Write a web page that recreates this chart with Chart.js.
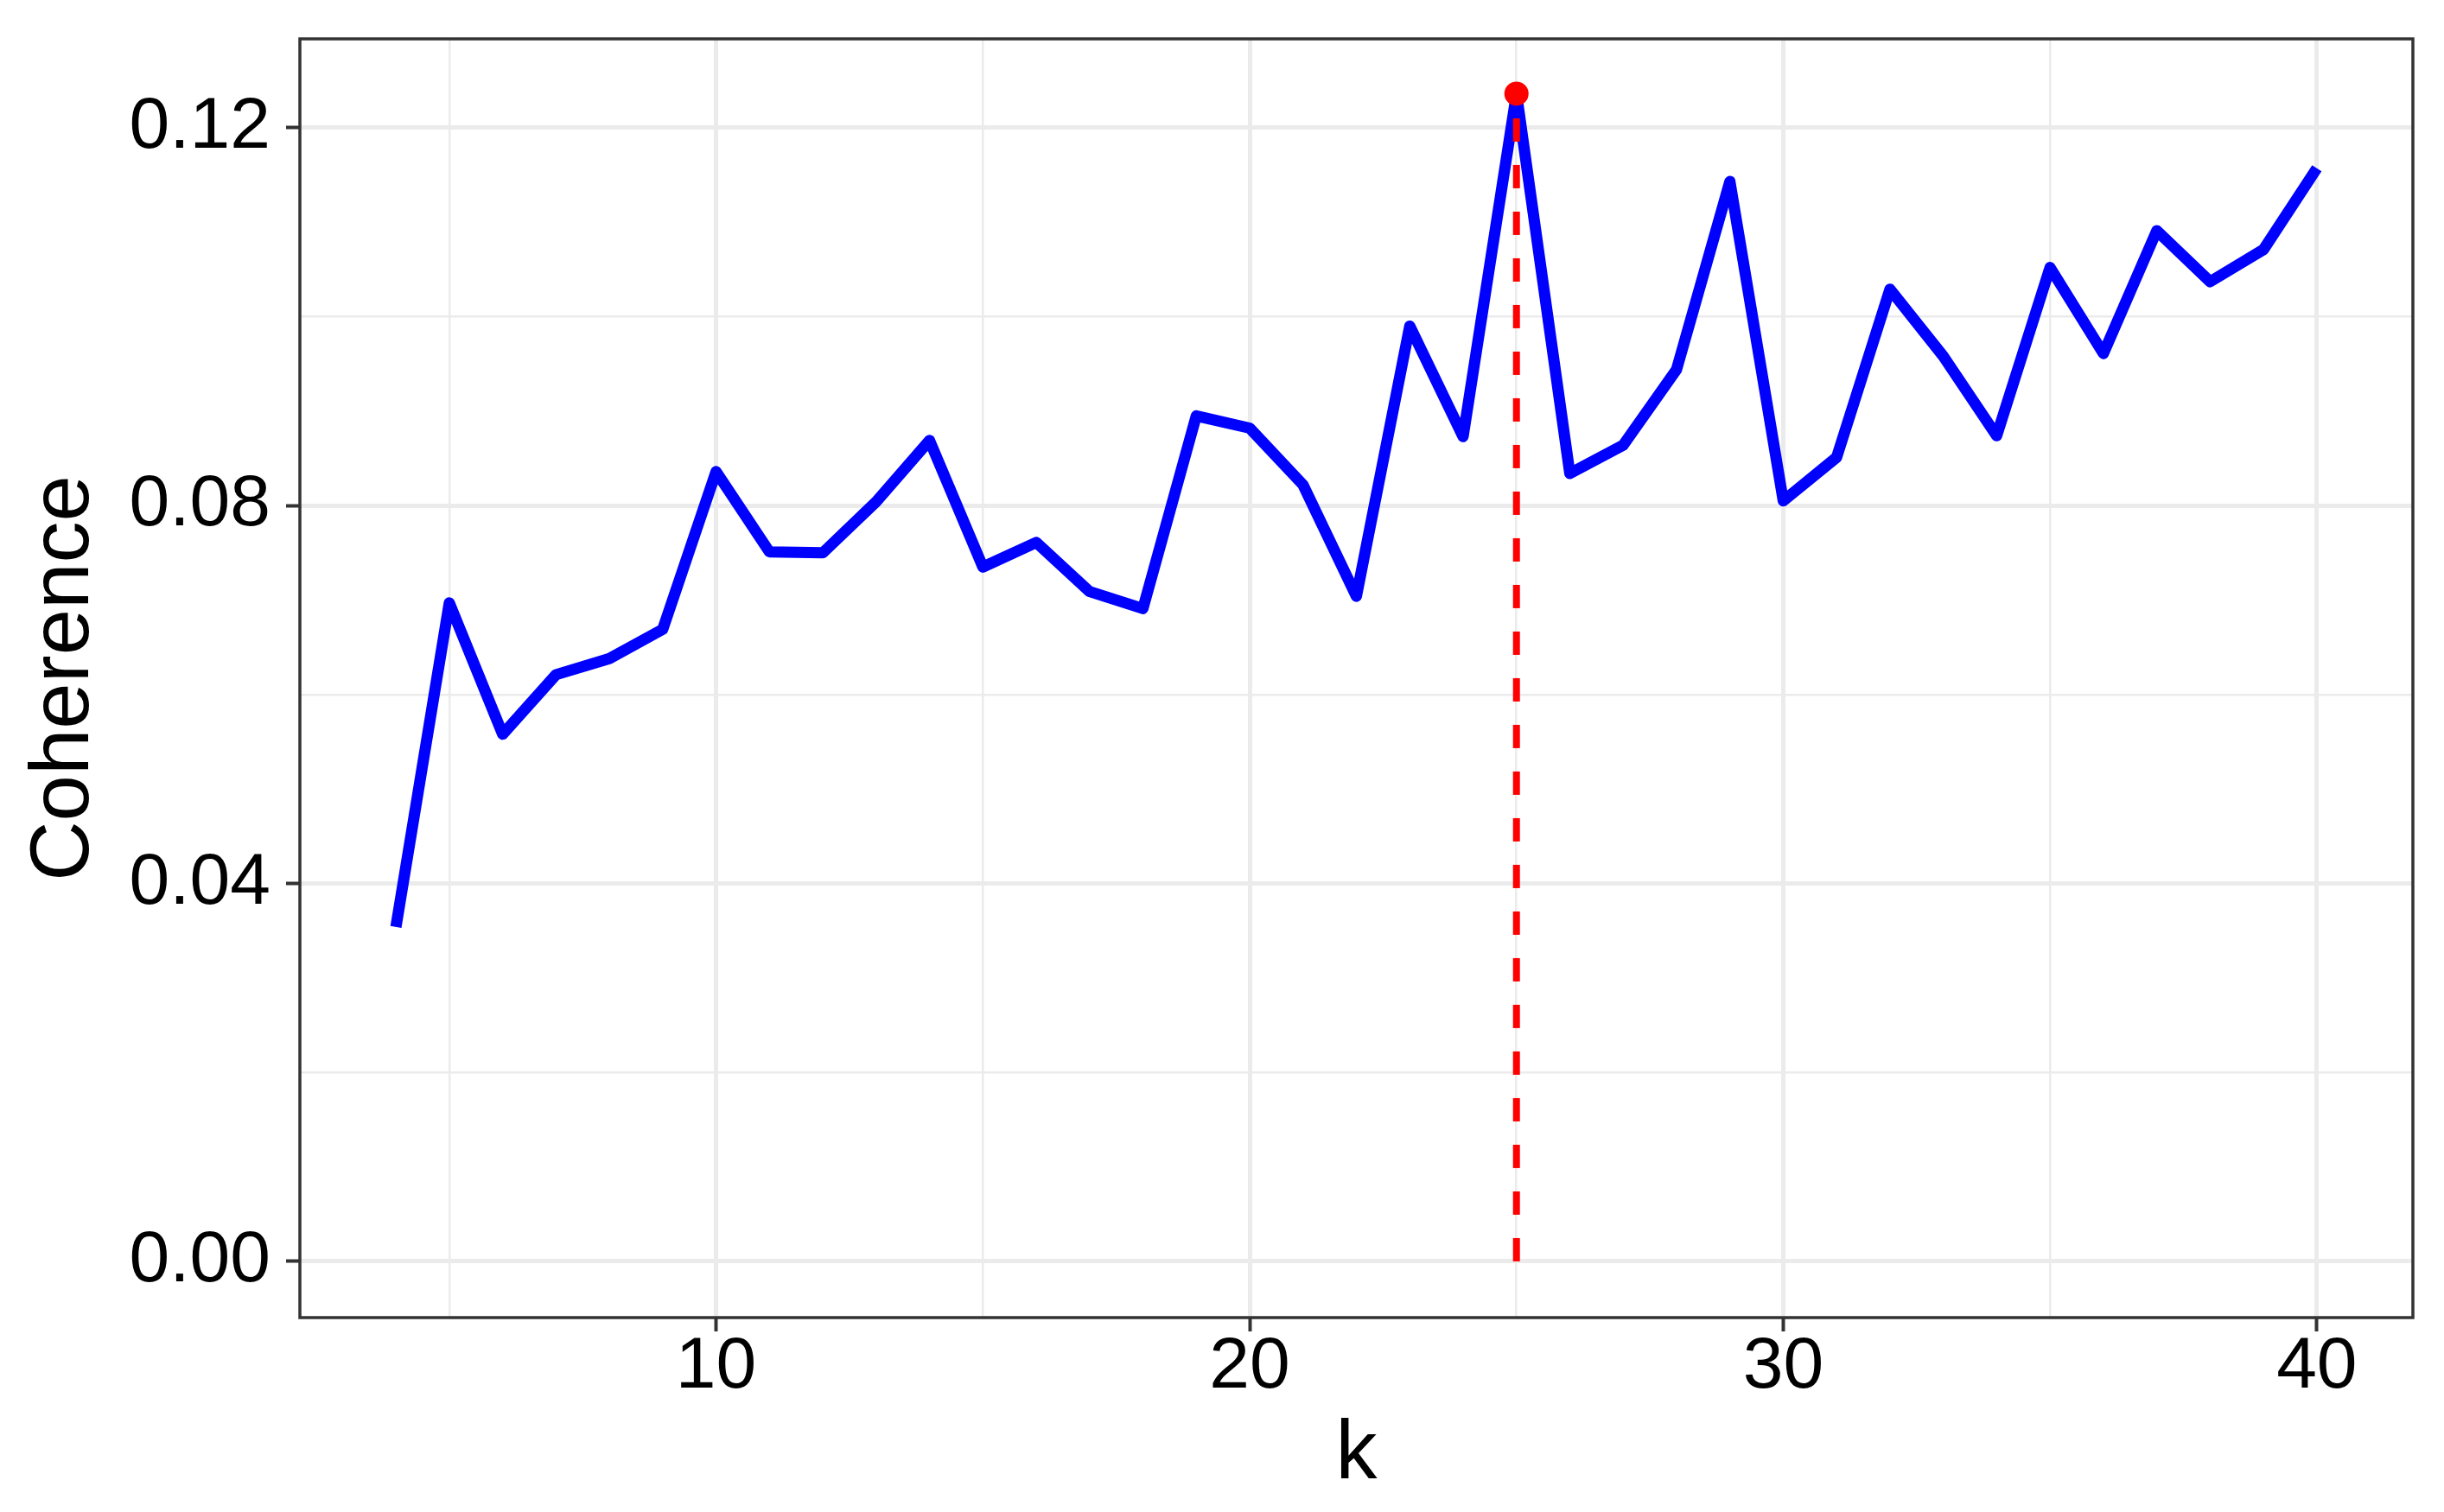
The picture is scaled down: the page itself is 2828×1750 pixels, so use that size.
<!DOCTYPE html>
<html>
<head>
<meta charset="utf-8">
<title>Coherence vs k</title>
<script src="https://cdn.jsdelivr.net/npm/chart.js@4.4.1/dist/chart.umd.min.js"></script>
<style>
  html, body { margin: 0; padding: 0; background: #ffffff; }
  #wrap { width: 2828px; height: 1750px; position: relative; }
</style>
</head>
<body>
<div id="wrap"><canvas id="coherenceChart"></canvas></div>
<script>
const byId = (id) => document.getElementById(id);

// number of topics
const kValues = [
  4, 5, 6, 7, 8, 9, 10, 11, 12, 13, 14, 15, 16, 17, 18, 19, 20, 21, 22,
  23, 24, 25, 26, 27, 28, 29, 30, 31, 32, 33, 34, 35, 36, 37, 38, 39, 40,
];

// coherence score for each k
const coherence = [
  0.0354, 0.0697, 0.0558, 0.0621, 0.0638, 0.0669, 0.0836, 0.0751, 0.075,
  0.0804, 0.0869, 0.0735, 0.0761, 0.0709, 0.0691, 0.0895, 0.0882, 0.0822,
  0.0704, 0.099, 0.0873, 0.1236, 0.0834, 0.0864, 0.0944, 0.1143, 0.0805,
  0.0851, 0.1029, 0.0958, 0.0874, 0.1052, 0.0961, 0.1091, 0.1037, 0.1071,
  0.1157,
];

const xTicks = [5, 10, 15, 20, 25, 30, 35, 40];
const xLabelTicks = [10, 20, 30, 40];
const yTicks = [0, 0.02, 0.04, 0.06, 0.08, 0.1, 0.12];
const yLabelTicks = [0, 0.04, 0.08, 0.12];

const FONT = "'Liberation Sans', Arial, Helvetica, sans-serif";
const GRID = "#ebebeb";
const DARK = "#333333";

const isLabelled = (list, v) => list.some((t) => Math.abs(t - v) < 1e-9);

const bestIdx = coherence.indexOf(Math.max(...coherence));
const bestK = kValues[bestIdx];
const bestVal = coherence[bestIdx];

const lineData = kValues.map((k, i) => ({ x: k, y: coherence[i] }));

const panelBorder = {
  id: "panelBorder",
  afterDraw(chart) {
    const { ctx, chartArea: a } = chart;
    ctx.save();
    ctx.strokeStyle = DARK;
    ctx.lineWidth = 3.5;
    ctx.strokeRect(a.left, a.top, a.right - a.left, a.bottom - a.top);
    ctx.restore();
  },
};

const gridOpts = (labelled) => ({
  drawTicks: true,
  tickLength: 16,
  color: GRID,
  lineWidth: (c) => (isLabelled(labelled, c.tick.value) ? 5 : 2.5),
  tickColor: (c) => (isLabelled(labelled, c.tick.value) ? DARK : "rgba(0,0,0,0)"),
  tickWidth: 4,
});

const initChart = () => {
  const canvas = byId("coherenceChart");
  if (!canvas) return null;

  return new Chart(canvas, {
    type: "scatter",
    data: {
      datasets: [
        {
          label: "Coherence",
          data: lineData,
          showLine: true,
          borderColor: "#0000ff",
          borderWidth: 13,
          borderJoinStyle: "round",
          borderCapStyle: "butt",
          pointRadius: 0,
          tension: 0,
          order: 3,
        },
        {
          label: "best k",
          data: [
            { x: bestK, y: 0 },
            { x: bestK, y: bestVal },
          ],
          showLine: true,
          borderColor: "#ff0000",
          borderWidth: 8,
          borderDash: [27, 27],
          borderCapStyle: "butt",
          pointRadius: 0,
          order: 2,
        },
        {
          label: "peak",
          data: [{ x: bestK, y: bestVal }],
          showLine: false,
          pointRadius: 14,
          pointBackgroundColor: "#ff0000",
          pointBorderWidth: 0,
          order: 1,
        },
      ],
    },
    options: {
      responsive: true,
      maintainAspectRatio: false,
      animation: false,
      layout: { padding: { top: 45, right: 36, left: 0, bottom: 0 } },
      plugins: {
        legend: { display: false },
        tooltip: { enabled: false },
      },
      scales: {
        x: {
          type: "linear",
          min: 2.2,
          max: 41.8,
          afterBuildTicks: (s) => {
            s.ticks = xTicks.map((v) => ({ value: v }));
          },
          afterFit: (s) => {
            s.height = 225;
          },
          border: { display: false },
          grid: gridOpts(xLabelTicks),
          ticks: {
            autoSkip: false,
            padding: 0,
            color: "#000000",
            font: { family: FONT, size: 84, lineHeight: 1 },
            callback: (v) => (isLabelled(xLabelTicks, v) ? String(v) : ""),
          },
          title: {
            display: true,
            text: "k",
            color: "#000000",
            font: { family: FONT, size: 96, lineHeight: 1 },
            padding: { top: 0, bottom: 17 },
          },
        },
        y: {
          type: "linear",
          min: -0.00595,
          max: 0.1294,
          afterBuildTicks: (s) => {
            s.ticks = yTicks.map((v) => ({ value: v }));
          },
          afterFit: (s) => {
            s.width = 347;
            // labels sit well inside the panel, no extra room needed
            s.paddingTop = 0;
            s.paddingBottom = 0;
          },
          border: { display: false },
          grid: gridOpts(yLabelTicks),
          ticks: {
            autoSkip: false,
            padding: 18,
            color: "#000000",
            font: { family: FONT, size: 84, lineHeight: 1 },
            callback: (v) => (isLabelled(yLabelTicks, v) ? v.toFixed(2) : ""),
          },
          title: {
            display: true,
            text: "Coherence",
            color: "#000000",
            font: { family: FONT, size: 96, lineHeight: 1 },
            padding: { top: 28, bottom: 0 },
          },
        },
      },
    },
    plugins: [panelBorder],
  });
};

initChart();
</script>
</body>
</html>
